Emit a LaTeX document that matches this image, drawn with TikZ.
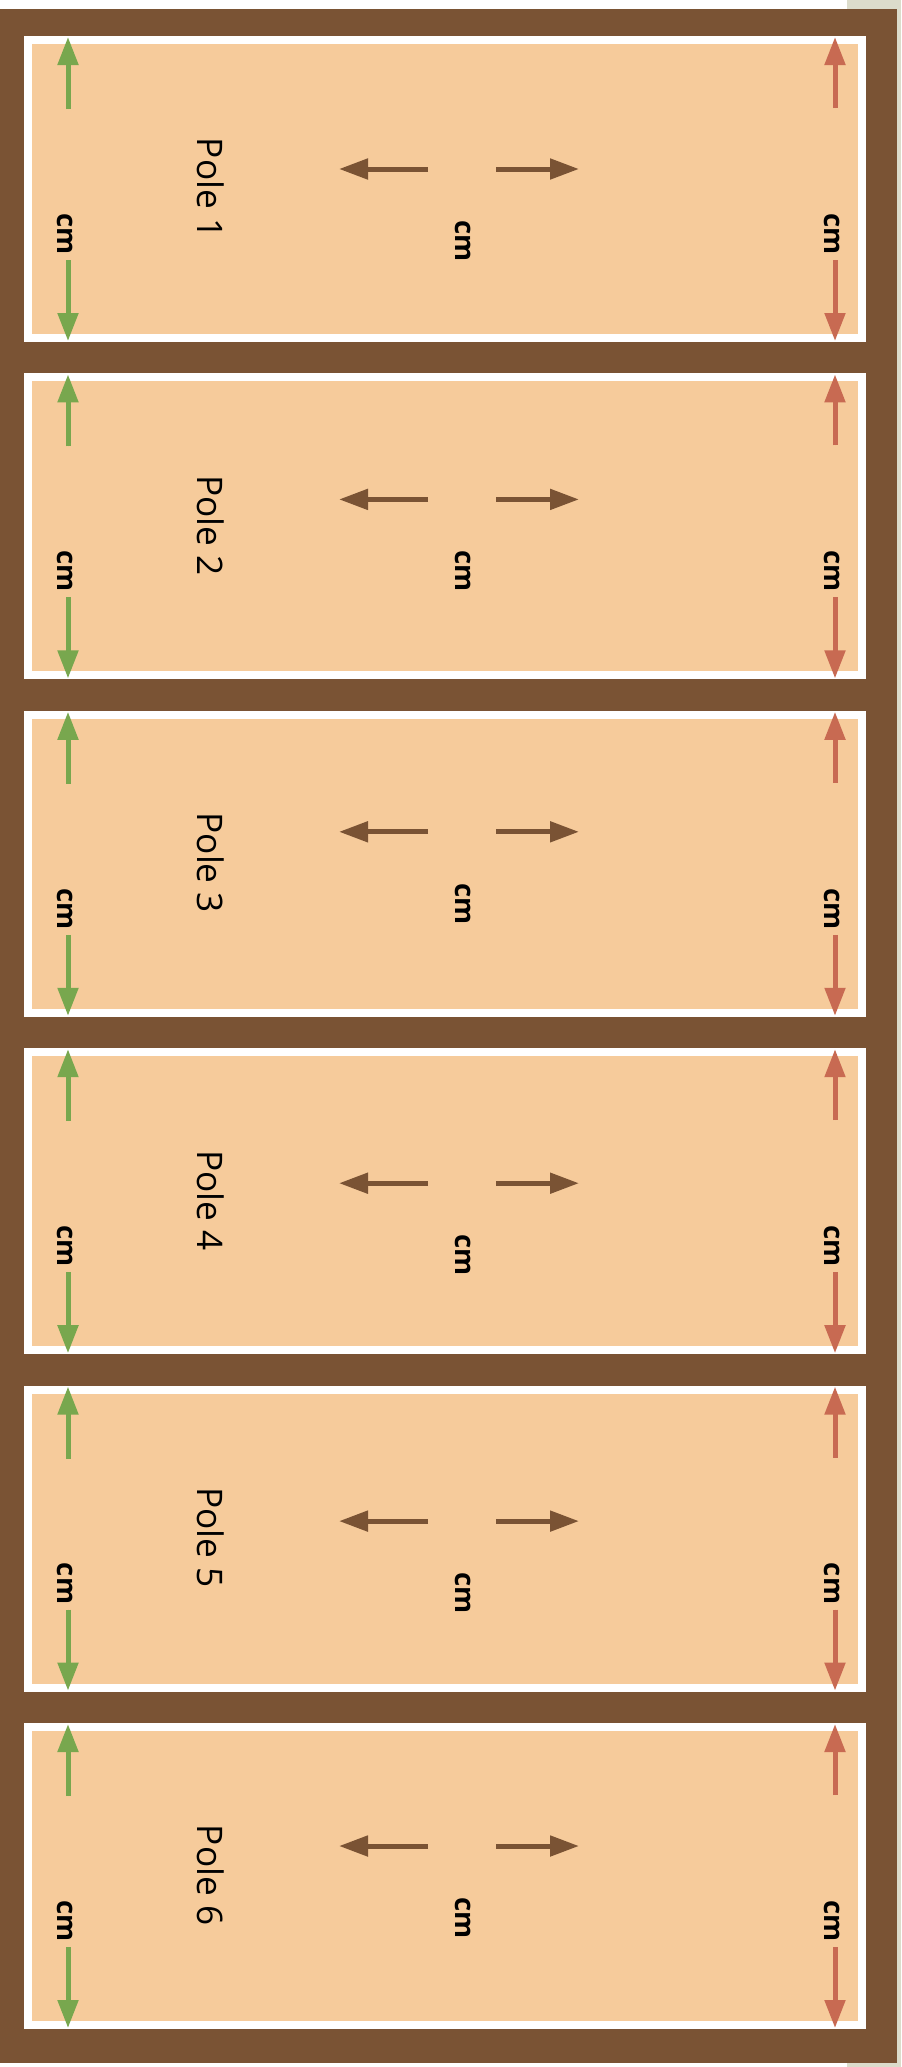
\documentclass[tikz,border=0pt]{standalone}
\usepackage{fontspec}
\setmainfont{Open Sans}
\usetikzlibrary{arrows.meta}
\definecolor{framebrown}{HTML}{7A5334}
\definecolor{boardpeach}{HTML}{F6CB9B}
\definecolor{dimgreen}{HTML}{78A74E}
\definecolor{dimred}{HTML}{C86A52}
\definecolor{edgegrey}{HTML}{DCDCCB}
\tikzset{
  polelabel/.style={rotate=-90,inner sep=0pt,font=\fontsize{17.6}{20}\selectfont},
  cmlabel/.style={rotate=-90,inner sep=0pt,font=\bfseries\fontsize{13.8}{16}\selectfont},
  dimarrow/.style={line width=2.5pt,-{Triangle[length=14pt,width=10pt]}},
  greenarrow/.style={dimarrow,draw=dimgreen,fill=dimgreen},
  redarrow/.style={dimarrow,draw=dimred,fill=dimred},
  brownarrow/.style={line width=2.5pt,-{Triangle[length=14.5pt,width=10pt]},draw=framebrown,fill=framebrown},
}
\begin{document}
\begin{tikzpicture}[x=0.5pt,y=-0.5pt]
\useasboundingbox (0,0) rectangle (901,2067);
\fill[white] (0,0) rectangle (901,2067);
\fill[edgegrey] (847,0) rectangle (901,2067);
\fill[framebrown] (0,9) rectangle (897,2063);
\foreach \i/\a in {0/133,1/126,2/121,3/135,4/135.5,5/123} {
  \pgfmathsetmacro\T{36+337.4*\i}
  \pgfmathsetmacro\A{\T+\a}
  \pgfmathtruncatemacro\n{\i+1}
  \fill[white] (24,\T) rectangle (866,\T+306);
  \fill[boardpeach] (32,\T+8) rectangle (858,\T+298);
  \node[polelabel] (pole\n) at (211,\T+152) {Pole \n};
  \node[cmlabel] (cmL\n) at (65,\T+198) {cm};
  \node[cmlabel] (cmM\n) at (463,\A+72) {cm};
  \node[cmlabel] (cmR\n) at (832,\T+198) {cm};
  \coordinate (gA\n) at (68,\T+73);
  \coordinate (gB\n) at (68,\T+1);
  \coordinate (gC\n) at (68,\T+224);
  \coordinate (gD\n) at (68,\T+305);
  \coordinate (rA\n) at (835,\T+72);
  \coordinate (rB\n) at (835,\T+1);
  \coordinate (rC\n) at (835,\T+224);
  \coordinate (rD\n) at (835,\T+305);
  \coordinate (bA\n) at (428,\A);
  \coordinate (bB\n) at (339,\A);
  \coordinate (bC\n) at (496,\A);
  \coordinate (bD\n) at (579,\A);
  \draw[greenarrow] (gA\n) -- (gB\n);
  \draw[greenarrow] (gC\n) -- (gD\n);
  \draw[redarrow] (rA\n) -- (rB\n);
  \draw[redarrow] (rC\n) -- (rD\n);
  \draw[brownarrow] (bA\n) -- (bB\n);
  \draw[brownarrow] (bC\n) -- (bD\n);
}
\end{tikzpicture}
\end{document}
